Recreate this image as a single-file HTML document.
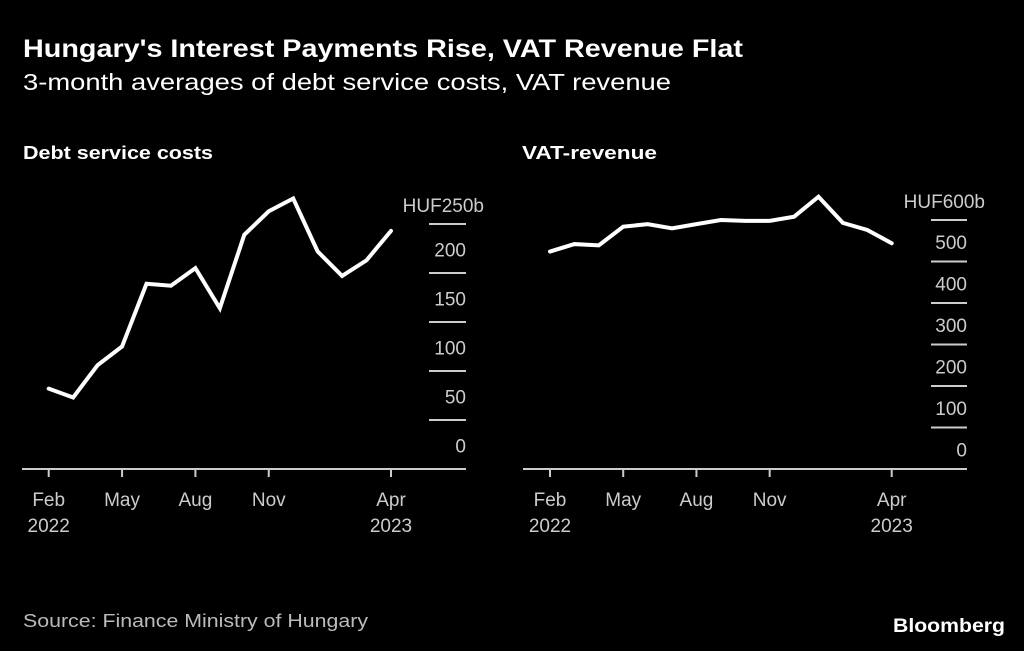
<!DOCTYPE html>
<html><head><meta charset="utf-8"><style>
html,body{margin:0;padding:0;background:#000;}
svg{display:block;font-family:"Liberation Sans",sans-serif;}
</style></head><body>
<svg id="c" width="1024" height="651" viewBox="0 0 1024 651">
<rect width="1024" height="651" fill="#000"/>
<text x="23" y="57" fill="#fff" font-size="25" font-weight="bold" textLength="720" lengthAdjust="spacingAndGlyphs">Hungary's Interest Payments Rise, VAT Revenue Flat</text>
<text x="23" y="90" fill="#fff" font-size="23" textLength="648" lengthAdjust="spacingAndGlyphs">3-month averages of debt service costs, VAT revenue</text>
<text x="23" y="159" fill="#fff" font-size="18" font-weight="bold" textLength="190" lengthAdjust="spacingAndGlyphs">Debt service costs</text>
<text x="522" y="159" fill="#fff" font-size="18" font-weight="bold" textLength="135" lengthAdjust="spacingAndGlyphs">VAT-revenue</text>
<text x="23" y="627" fill="#bbb" font-size="18" textLength="345" lengthAdjust="spacingAndGlyphs">Source: Finance Ministry of Hungary</text>
<text x="1005" y="632" fill="#fff" font-size="19" font-weight="bold" text-anchor="end" textLength="112" lengthAdjust="spacingAndGlyphs">Bloomberg</text>
<g id="left"></g><g id="right"></g>
</svg>
<script>
const months = ["Feb","Mar","Apr","May","Jun","Jul","Aug","Sep","Oct","Nov","Dec","Jan","Feb","Mar","Apr"];
const debtValues = [82,73,106,125,189,187,205,164,239,263,276,222,197,213,243];
const vatValues = [524,542,539,584,590,580,590,600,598,598,608,656,593,576,544];
const debtTicks = [0,50,100,150,200,250];
const vatTicks = [0,100,200,300,400,500,600];
const xTickIdx = [0,3,6,9,14];
const xTickLabels = [["Feb","2022"],["May",""],["Aug",""],["Nov",""],["Apr","2023"]];
const NS="http://www.w3.org/2000/svg";
function mk(g,tag,attrs,txt){const e=document.createElementNS(NS,tag);for(const k in attrs)e.setAttribute(k,attrs[k]);if(txt!==undefined)e.textContent=txt;g.appendChild(e);return e;}
function panel(gid,vals,ticks,maxV,x0,x1,axL,axR,gx0,gx1,unitLabel,prefix){
  const g=document.getElementById(gid);
  const yB=469,yT=maxV===250?224:220;
  const y=v=>yB-(v/maxV)*(yB-yT);
  const x=i=>x0+(x1-x0)*i/(vals.length-1);
  ticks.forEach((t,k)=>{
    if(t>0){const l=mk(g,'line',{x1:gx0,x2:gx1,y1:y(t),y2:y(t),stroke:'#ccc','stroke-width':2});
    
    }
    if(t<maxV){const lbl=mk(g,'text',{x:gx1,y:y(t)-(y(0)-y(ticks[1]))/2+8,fill:'#ccc','font-size':19,'text-anchor':'end'},String(t));
    
    }
  });
  const u=mk(g,'text',{x:gx1+18,y:y(maxV)-12,fill:'#ccc','font-size':19,'text-anchor':'end'},unitLabel);
  
  
  const ax=mk(g,'line',{x1:axL,x2:axR,y1:yB,y2:yB,stroke:'#ccc','stroke-width':2});
  
  
  xTickIdx.forEach((i,k)=>{
    const tk=mk(g,'line',{x1:x(i),x2:x(i),y1:yB,y2:yB+8,stroke:'#ccc','stroke-width':2});
    
    
    const t1=mk(g,'text',{x:x(i),y:506,fill:'#ccc','font-size':19,'text-anchor':'middle'},xTickLabels[k][0]);
    
    
    if(xTickLabels[k][1]){const t2=mk(g,'text',{x:x(i),y:532,fill:'#ccc','font-size':19,'text-anchor':'middle'},xTickLabels[k][1]);
    
    }
  });
  const p=mk(g,'polyline',{points:vals.map((v,i)=>x(i)+','+y(v)).join(' '),fill:'none',stroke:'#fff','stroke-width':4,'stroke-linejoin':'miter','stroke-linecap':'round'});
  
  
}
panel('left',debtValues,debtTicks,250,48.7,391,22,466,429,466,'HUF250b','debt');
panel('right',vatValues,vatTicks,600,550,891.7,523,967,931,967,'HUF600b','vat');
</script>
</body></html>
